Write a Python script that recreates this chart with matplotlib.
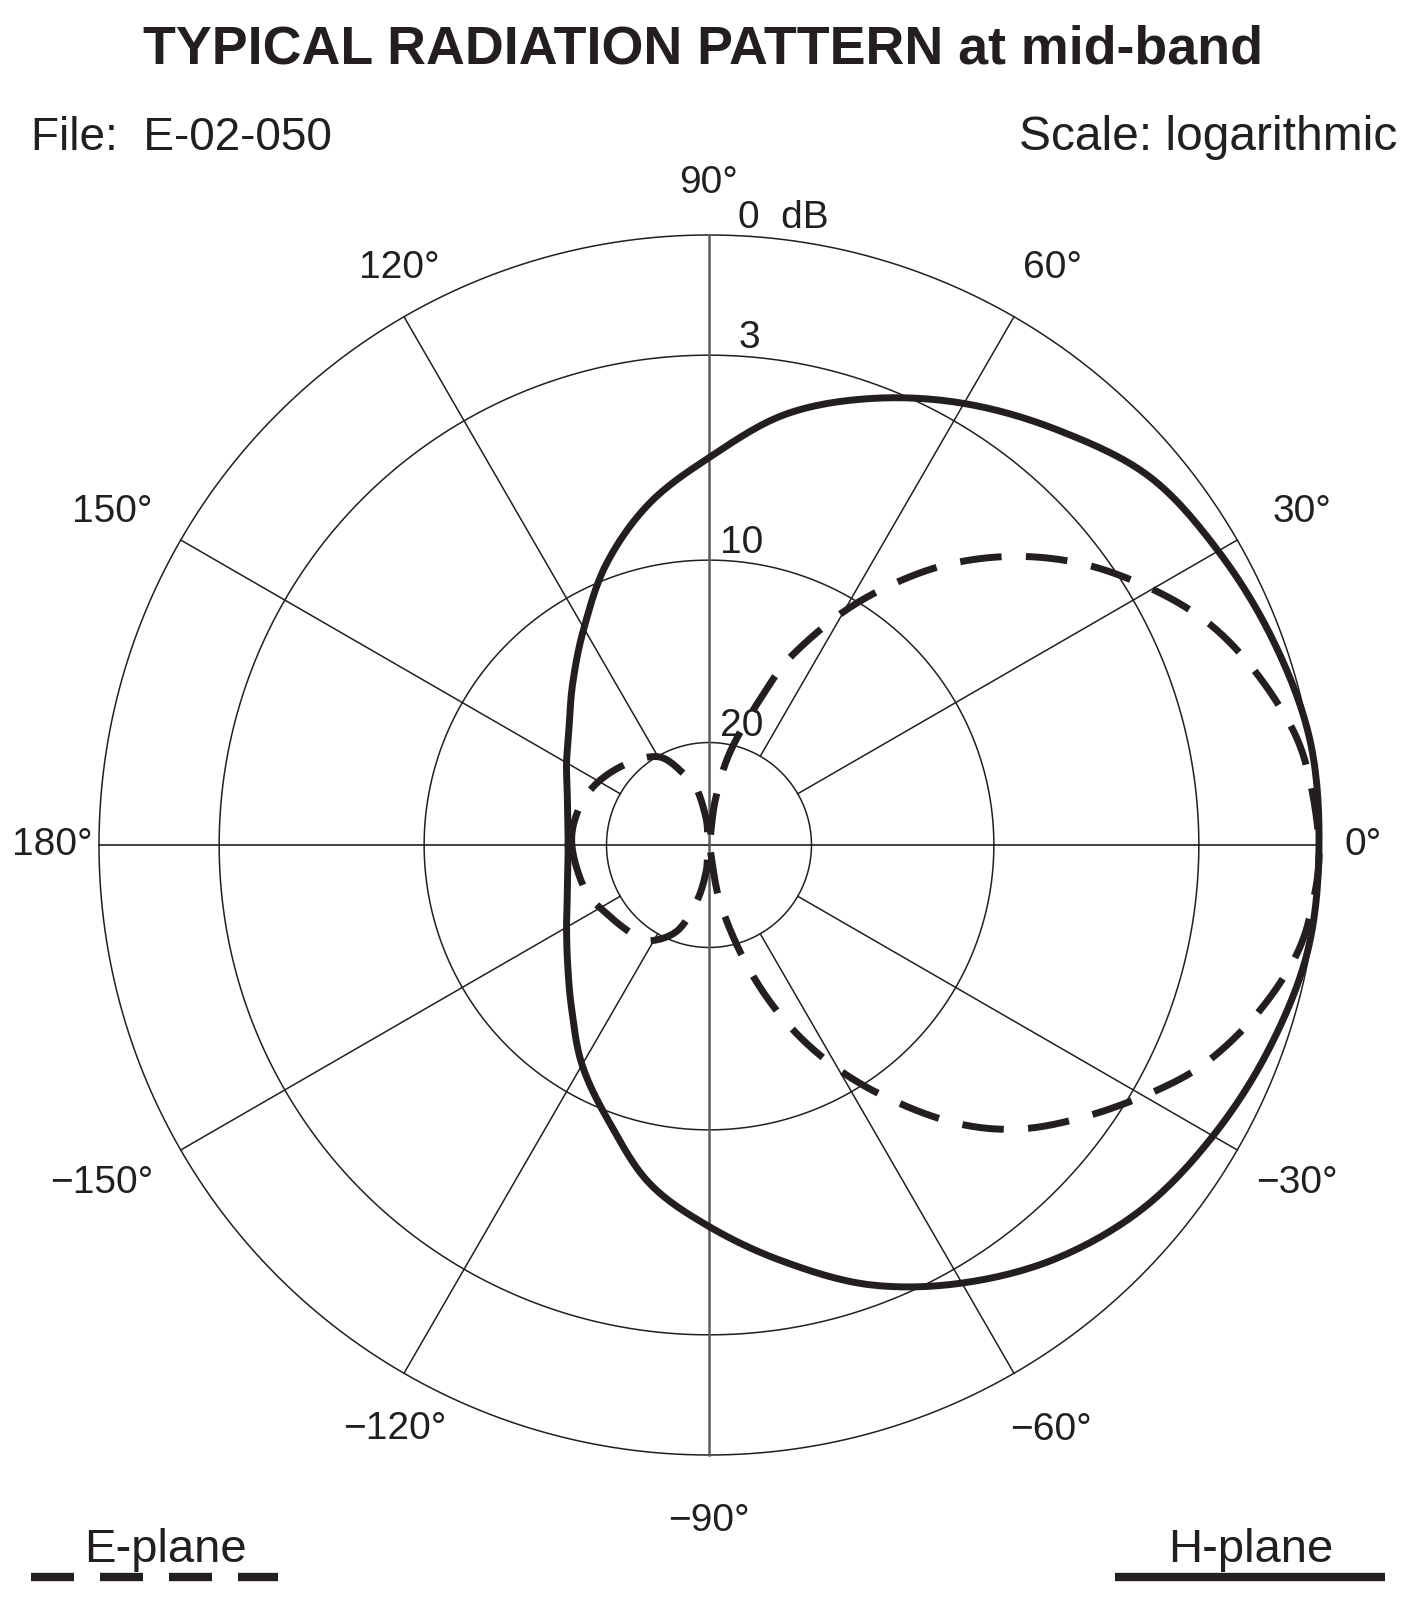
import numpy as np
import matplotlib
matplotlib.use('Agg')
import matplotlib.pyplot as plt
from matplotlib.lines import Line2D

plt.rcParams['font.family'] = ['Liberation Sans', 'DejaVu Sans']
INK = '#231f20'

# radial scale of the chart (dB below peak -> fraction of outer radius)
SCALE_DB = [0, 3, 10, 20, 40]
SCALE_R = [1.0, 0.803, 0.467, 0.168, 0.0]

RING_DB = [0, 3, 10, 20]
RING_LABELS = ['0  dB', '3', '10', '20']
ANGLE_TICKS = [0, 30, 60, 90, 120, 150, 180, -150, -120, -90, -60, -30]

# H-plane (solid), every 10 degrees
h_angle = list(range(-180, 181, 10))
h_db = [17.9, 17.75, 17.35, 16.6, 15.5, 13.9, 11.7, 9.7, 8.0, 6.7, 5.3, 3.75,
        2.6, 1.75, 1.1, 0.7, 0.35, 0.05, 0.0, 0.0, 0.25, 0.55, 0.9, 1.7, 2.5,
        3.5, 4.8, 6.5, 7.9, 9.5, 11.9, 14.0, 15.6, 16.6, 17.35, 17.75, 17.9]

# E-plane (dashed)
e_angle = [-180, -160, -145, -130, -121, -110, -102, -96, -90, -79, -72, -66,
           -60, -54, -48, -42, -35, -28, -23, -17, -11, -6, 0, 8, 14, 21, 27,
           34, 40, 46, 52, 59, 66, 70, 77, 82, 90, 96, 102, 108, 119, 135, 151,
           165, 180]
e_db = [18.1, 18.4, 18.9, 19.2, 19.5, 22.3, 29, 35, 40, 28.4, 18.4, 14.75,
        11.4, 8.9, 6.9, 5.25, 3.7, 2.36, 1.6, 0.9, 0.34, 0.1, 0.0, 0.2, 0.6,
        1.25, 2.0, 3.1, 4.5, 6.1, 7.9, 10.3, 14.1, 16.7, 21, 31, 40, 35, 29,
        26, 20.4, 19.3, 18.6, 18.2, 18.1]


def to_r(db):
    return np.interp(db, SCALE_DB, SCALE_R)


def smooth_closed(ang_deg, db, n=16):
    # draw the closed pattern as a Catmull-Rom curve through the read points
    th = np.deg2rad(ang_deg[:-1])
    r = to_r(np.asarray(db[:-1], dtype=float))
    P = np.column_stack([r * np.cos(th), r * np.sin(th)])
    N = len(P)
    t = np.linspace(0, 1, n, endpoint=False)[:, None]
    out = []
    for i in range(N):
        p0, p1, p2, p3 = P[i - 1], P[i], P[(i + 1) % N], P[(i + 2) % N]
        out.append(0.5 * (2 * p1 + (p2 - p0) * t
                          + (2 * p0 - 5 * p1 + 4 * p2 - p3) * t ** 2
                          + (3 * p1 - p0 - 3 * p2 + p3) * t ** 3))
    out.append(P[:1])
    pts = np.vstack(out)
    return np.arctan2(pts[:, 1], pts[:, 0]), np.hypot(pts[:, 0], pts[:, 1])


W, H = 1406, 1607
fig = plt.figure(figsize=(W / 100, H / 100), dpi=100)
cx, cy, R = 709, 845, 610
ax = fig.add_axes([(cx - R) / W, 1 - (cy + R) / H, 2 * R / W, 2 * R / H],
                  projection='polar')
ax.set_ylim(0, 1)
ax.set_axis_off()

# rings
t = np.linspace(0, 2 * np.pi, 721)
for d in RING_DB:
    ax.plot(t, np.full_like(t, to_r(d)), color=INK, lw=1.1, clip_on=False)

# spokes
r_in = to_r(20)
for a in range(0, 360, 30):
    th = np.deg2rad(a)
    if a % 90 == 0:
        col, lw = ('#5e5e5e', 1.8) if a in (90, 270) else (INK, 1.2)
        ax.plot([th, th], [0, 1], color=col, lw=lw, clip_on=False)
    else:
        ax.plot([th, th], [r_in, 1], color=INK, lw=1.1, clip_on=False)

# angle labels (placed where they sit on the original sheet)
lab_ang = [0, 29.3, 59.2, 90, 118.2, 150.8, 180, -150.9, -118.3, -90, -59.7, -29.9]
lab_r = [1.072, 1.115, 1.101, 1.085, 1.074, 1.12, 1.076, 1.139, 1.088, 1.109,
         1.11, 1.111]
for a, la, lr in zip(ANGLE_TICKS, lab_ang, lab_r):
    ax.text(np.deg2rad(la), lr, f'{a}°'.replace('-', '\u2212'), fontsize=28,
            color=INK, ha='center', va='center', clip_on=False)

# dB ring labels
for d, lab in zip(RING_DB, RING_LABELS):
    dx = 21 if d in (0, 3) else 8
    ax.annotate(lab, xy=(np.pi / 2, to_r(d)), xytext=(dx, 5),
                textcoords='offset points', fontsize=28, color=INK,
                ha='left', va='baseline', annotation_clip=False)

# patterns
th_h, r_h = smooth_closed(h_angle, h_db)
th_e, r_e = smooth_closed(e_angle, e_db)
ax.plot(th_h, r_h, color=INK, lw=5, clip_on=False, solid_joinstyle='round')
ax.plot(th_e, r_e, color=INK, lw=5, clip_on=False, linestyle=(0, (6.0, 3.5)))

# header
fig.text(0.5, 1 - 63 / H, 'TYPICAL RADIATION PATTERN at mid-band',
         fontsize=38.7, fontweight='bold', color=INK, ha='center', va='baseline')
fig.text(31 / W, 1 - 150 / H, 'File:  E-02-050', fontsize=33, color=INK,
         ha='left', va='baseline')
fig.text(1397 / W, 1 - 150 / H, 'Scale: logarithmic', fontsize=34.5, color=INK,
         ha='right', va='baseline')

# legend
fig.text(165 / W, 1 - 1562 / H, 'E-plane', fontsize=34, color=INK,
         ha='center', va='baseline')
fig.text(1251 / W, 1 - 1562 / H, 'H-plane', fontsize=34, color=INK,
         ha='center', va='baseline')
ly = 1 - 1577 / H
fig.add_artist(Line2D([31 / W, 278 / W], [ly, ly], transform=fig.transFigure,
                      color=INK, lw=6, linestyle=(0, (5.16, 3.12))))
fig.add_artist(Line2D([1115 / W, 1385 / W], [ly, ly], transform=fig.transFigure,
                      color=INK, lw=6, solid_capstyle='butt'))

fig.savefig('out.png', dpi=100, facecolor='white')
